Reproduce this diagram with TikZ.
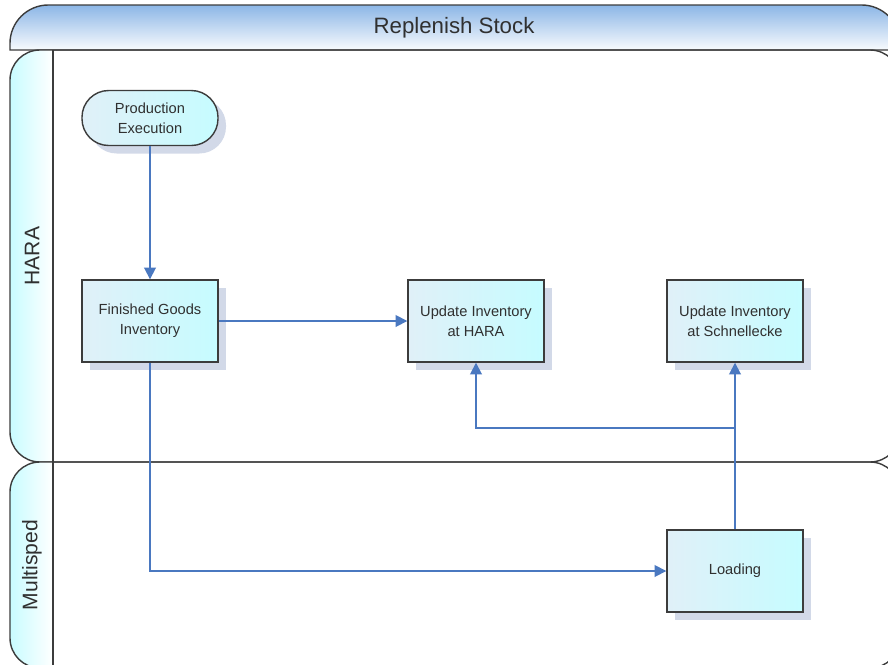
\documentclass[tikz,border=0pt]{standalone}
\usepackage{fontspec}
\setmainfont{Liberation Sans}
\usetikzlibrary{arrows.meta}
\usetikzlibrary{shadows}

\definecolor{laneline}{HTML}{3C3C3C}
\definecolor{labeltext}{HTML}{303030}
\definecolor{flowblue}{HTML}{4A78C0}
\definecolor{boxcyan}{HTML}{C6FCFF}
\definecolor{boxpale}{HTML}{E0F0F8}
\definecolor{headblue}{HTML}{8CB6E6}
\definecolor{lanecyan}{HTML}{C8FCFF}
\definecolor{shade}{HTML}{D2D9E8}

\tikzset{
  lane/.style={draw=laneline, line width=1.2pt},
  task/.style={draw=laneline, line width=1.2pt, left color=boxpale, right color=boxcyan,
    minimum width=4.08cm, minimum height=2.46cm, align=center, text=labeltext,
    font=\fontsize{12.5}{17}\selectfont,
    drop shadow={shadow xshift=0.24cm, shadow yshift=-0.24cm, fill=shade, opacity=1}},
  event/.style={task, minimum height=1.65cm, rounded corners=0.8cm},
  flow/.style={draw=flowblue, line width=1.5pt, -{Triangle[length=10pt, width=10pt]}}
}

\begin{document}
\begin{tikzpicture}[x=0.03cm, y=-0.03cm]
\useasboundingbox (0,0) rectangle (888,664);
\clip (0,0) rectangle (888,664);

% pool header
\draw[lane, top color=headblue, bottom color=headblue!6] (10,50) [rounded corners=1.15cm] -- (10,5) -- (900,5) [sharp corners] -- (900,50) -- cycle;
\node[text=labeltext] (title) at (454,28) {\fontsize{19}{22}\selectfont Replenish Stock};

% lanes
\foreach \top/\bot/\name in {50/462/HARA, 462/668/Multisped} {
  \begin{scope}
    \clip[rounded corners=0.9cm] (10,\top) rectangle (900,\bot);
    \fill[left color=lanecyan, right color=white] (10,\top) rectangle (53,\bot);
  \end{scope}
  \draw[lane, rounded corners=0.9cm] (10,\top) rectangle (900,\bot);
  \draw[lane] (53,\top) -- (53,\bot);
  \node[rotate=90, text=labeltext, font=\fontsize{18}{20}\selectfont] (lab\name) at (32,{(\top+\bot)/2}) {\name};
};

\node[event] (prod) at (150,118) {Production\\Execution};
\node[task] (fgi) at (150,321) {Finished Goods\\Inventory};
\node[task] (updhara) at (476,321) {Update Inventory\\at HARA};
\node[task] (updschn) at (735,321) {Update Inventory\\at Schnellecke};
\node[task] (load) at (735,571) {Loading};
\coordinate (split) at (735,428);

\draw[flow] (prod) -- (fgi);
\draw[flow] (fgi) -- (updhara);
\draw[flow] (fgi.south) |- (load.west);
\draw[flow] (load) -- (updschn);
\draw[flow] (split) -| (updhara.south);

\end{tikzpicture}
\end{document}
